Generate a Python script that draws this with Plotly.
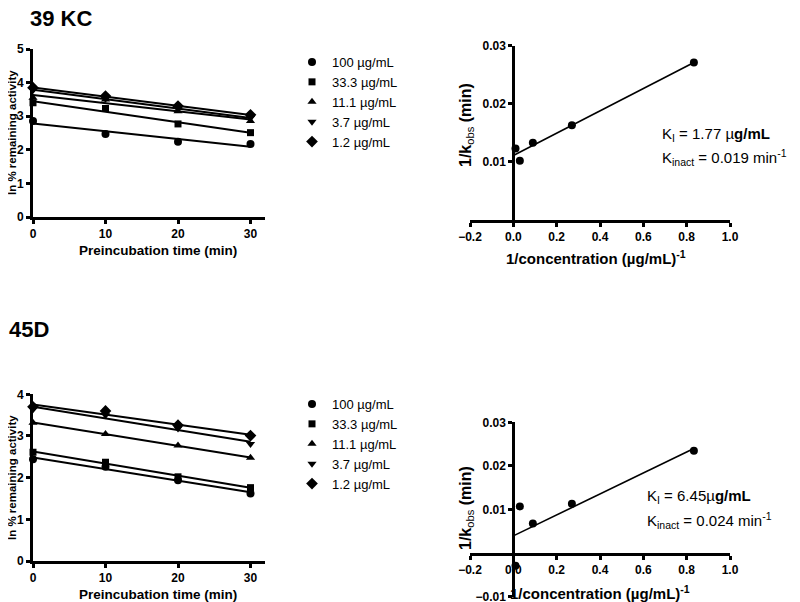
import numpy as np
import plotly.graph_objects as go

FONT = "Liberation Sans, Arial, sans-serif"
W, H = 800, 602
OFF = 8  # page body margin offset

# ---------------- data ----------------
time_min = [0, 10, 20, 30]
conc_labels = ["100 µg/mL", "33.3 µg/mL", "11.1 µg/mL", "3.7 µg/mL", "1.2 µg/mL"]
conc_values = [100, 33.3, 11.1, 3.7, 1.2]
symbols = ["circle", "square", "triangle-up", "triangle-down", "diamond"]
sizes = [8, 7, 8, 8, 9]

# 39 KC: ln % remaining activity
kc39_100 = [2.86, 2.47, 2.24, 2.17]
kc39_33 = [3.40, 3.23, 2.77, 2.51]
kc39_11 = [3.55, 3.50, 3.15, 2.86]
kc39_3_7 = [3.78, 3.52, 3.22, 2.95]
kc39_1_2 = [3.85, 3.60, 3.30, 3.04]

# 45D: ln % remaining activity
d45_100 = [2.44, 2.26, 1.94, 1.62]
d45_33 = [2.61, 2.37, 2.02, 1.76]
d45_11 = [3.32, 3.05, 2.77, 2.48]
d45_3_7 = [3.64, 3.50, 3.18, 2.81]
d45_1_2 = [3.70, 3.60, 3.26, 3.01]

# Kitz-Wilson: 1/kobs (min) vs 1/concentration
kc39_inv_kobs = [0.0123, 0.0102, 0.0133, 0.0163, 0.0271]
d45_inv_kobs = [-0.0029, 0.0107, 0.0068, 0.0113, 0.0235]

left_ticks = [0, 10, 20, 30]
right_xticks = [-0.2, 0.0, 0.2, 0.4, 0.6, 0.8, 1.0]
kc39_yticks = [0.01, 0.02, 0.03]
d45_yticks = [-0.01, 0.01, 0.02, 0.03]

# ---------------- helpers ----------------
def px_x(p):
    return (p - OFF) / W

def px_y(p):
    return 1 - (p - OFF) / H

fig = go.Figure()

def add_decay(series, xa, ya, legend_name, showlegend):
    t = np.array(time_min, dtype=float)
    for vals, lab, sym, sz in zip(series, conc_labels, symbols, sizes):
        v = np.array(vals, dtype=float)
        slope, icpt = np.polyfit(t, v, 1)
        tf = np.array([t.min(), t.max()])
        fig.add_trace(go.Scatter(x=tf, y=icpt + slope * tf, mode="lines",
                                 line=dict(color="black", width=2),
                                 xaxis=xa, yaxis=ya, showlegend=False,
                                 hoverinfo="skip", cliponaxis=False))
        fig.add_trace(go.Scatter(x=t, y=v, mode="markers", name=lab,
                                 marker=dict(symbol=sym, size=sz, color="black"),
                                 xaxis=xa, yaxis=ya, showlegend=showlegend,
                                 legend=legend_name, cliponaxis=False))

def add_kitz(yvals, xa, ya):
    x = 1.0 / np.array(conc_values, dtype=float)
    y = np.array(yvals, dtype=float)
    slope, icpt = np.polyfit(x, y, 1)
    xf = np.array([0.0, x.max()])
    fig.add_trace(go.Scatter(x=xf, y=icpt + slope * xf, mode="lines",
                             line=dict(color="black", width=1.6),
                             xaxis=xa, yaxis=ya, showlegend=False,
                             hoverinfo="skip", cliponaxis=False))
    fig.add_trace(go.Scatter(x=x, y=y, mode="markers",
                             marker=dict(symbol="circle", size=8, color="black"),
                             xaxis=xa, yaxis=ya, showlegend=False,
                             cliponaxis=False))

add_decay([kc39_100, kc39_33, kc39_11, kc39_3_7, kc39_1_2], "x", "y", "legend", True)
add_decay([d45_100, d45_33, d45_11, d45_3_7, d45_1_2], "x2", "y2", "legend2", True)
add_kitz(kc39_inv_kobs, "x3", "y3")
add_kitz(d45_inv_kobs, "x4", "y4")

axis_common = dict(showline=True, linewidth=3, linecolor="black", mirror=False,
                   ticks="outside", ticklen=4, tickwidth=3, tickcolor="black",
                   showgrid=False, zeroline=False, automargin=False,
                   tickfont=dict(family=FONT, size=12, color="black", weight="bold"))

left_x_dom = [px_x(33), px_x(265)]
right_x_dom = [px_x(470), px_x(730)]

fig.update_layout(
    xaxis=dict(domain=left_x_dom, range=[0, 32], anchor="y", tickvals=left_ticks, **axis_common),
    yaxis=dict(domain=[px_y(217), px_y(49)], range=[0, 5], anchor="x",
               tickvals=[0, 1, 2, 3, 4, 5], **axis_common),
    xaxis2=dict(domain=left_x_dom, range=[0, 32], anchor="y2", tickvals=left_ticks, **axis_common),
    yaxis2=dict(domain=[px_y(561), px_y(394.3)], range=[0, 4], anchor="x2",
                tickvals=[0, 1, 2, 3, 4], **axis_common),
    xaxis3=dict(domain=right_x_dom, range=[-0.2, 1.0], anchor="y3",
                tickvals=right_xticks, tickformat=".1f", **axis_common),
    yaxis3=dict(domain=[px_y(220), px_y(45.7)], range=[0, 0.03], anchor="free",
                position=px_x(513.3), tickvals=kc39_yticks, tickformat=".2f", **axis_common),
    xaxis4=dict(domain=right_x_dom, range=[-0.2, 1.0], anchor="free",
                position=px_y(554), tickvals=right_xticks, tickformat=".1f", **axis_common),
    yaxis4=dict(domain=[px_y(596.7), px_y(422.3)], range=[-0.01, 0.03], anchor="free",
                position=px_x(513.3), tickvals=d45_yticks, tickformat=".2f", **axis_common),
)

legend_common = dict(font=dict(family=FONT, size=13, color="black"),
                     bgcolor="rgba(0,0,0,0)", borderwidth=0,
                     xanchor="left", yanchor="top", itemclick=False, itemdoubleclick=False)
fig.update_layout(
    legend=dict(x=px_x(292), y=px_y(47), **legend_common),
    legend2=dict(x=px_x(292), y=px_y(389), **legend_common),
)

ann = []
def text(x, y, s, size, bold=False, angle=0, xanchor="center"):
    ann.append(dict(x=px_x(x), y=px_y(y), xref="paper", yref="paper", text=s,
                    showarrow=False, textangle=angle, xanchor=xanchor, yanchor="middle",
                    borderpad=0,
                    font=dict(family=FONT, size=size, color="black",
                              weight="bold" if bold else "normal")))

# panel titles
text(29, 19, "39 KC", 22, bold=True, xanchor="left")
text(8, 329.5, "45D", 22, bold=True, xanchor="left")
# left axis titles
text(12, 133, "ln % remaining activity", 11.5, bold=True, angle=-90)
text(12, 478, "ln % remaining activity", 11.5, bold=True, angle=-90)
text(158, 250, "Preincubation time (min)", 13.5, bold=True)
text(158, 594, "Preincubation time (min)", 13.5, bold=True)
# right axis titles
text(466, 125, "1/k<span style='font-weight:normal'><sub>obs</sub></span> (min)", 16, bold=True, angle=-90)
text(466, 508, "1/k<span style='font-weight:normal'><sub>obs</sub></span> (min)", 16, bold=True, angle=-90)
text(596, 258, "1/concentration (µg/mL)<sup>-1</sup>", 15, bold=True)
text(600, 592, "1/concentration (µg/mL)<sup>-1</sup>", 15, bold=True)
# constants
text(661, 134, "K<sub>I</sub> = 1.77 µ<b>g/mL</b>", 15, xanchor="left")
text(661, 157, "K<sub>inact</sub> = 0.019 min<sup>-1</sup>", 15, xanchor="left")
text(646, 496, "K<sub>I</sub> = 6.45µ<b>g/mL</b>", 15, xanchor="left")
text(646, 520, "K<sub>inact</sub> = 0.024 min<sup>-1</sup>", 15, xanchor="left")

fig.update_layout(
    annotations=ann,
    width=W, height=H,
    margin=dict(l=0, r=0, t=0, b=0, autoexpand=False),
    paper_bgcolor="white", plot_bgcolor="white",
    font=dict(family=FONT, color="black"),
)

fig.write_html("out.html")
